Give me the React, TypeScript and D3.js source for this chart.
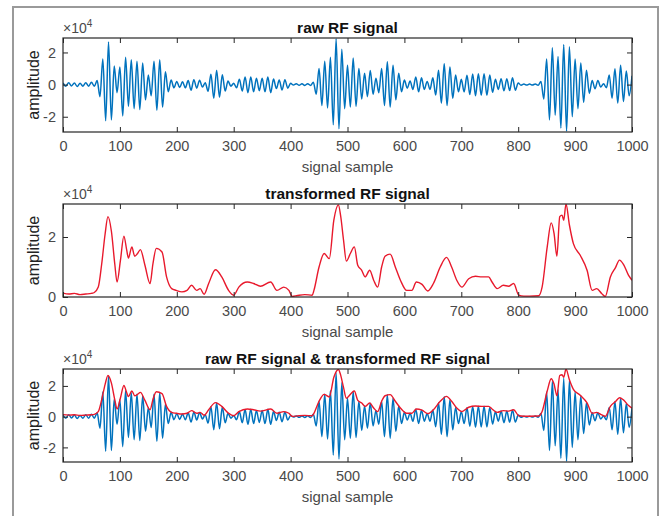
import { useRef, useEffect } from 'react';
import * as d3 from 'd3';

// all amplitudes in units of 10^4

// raw RF signal: peaks and troughs, one every 5 samples (0, 5, ... 1000)
const RAW_STEP = 5;
const RAW_EXTREMA = [
  0.1, -0.1, 0.12, -0.08, 0.1, -0.12, 0.08, -0.1, 0.12, -0.1,
  0.15, -0.1, 0.25, -0.75, 1.6, -2.25, 2.65, -2.2, 1.15, -0.5,
  1.1, -1.95, 1.7, -1.35, 1.55, -1.5, 1.45, -1.55, 1.35, -0.95,
  0.6, -0.7, 1.45, -1.6, 1.55, -1.4, 0.8, -0.45, 0.28, -0.2,
  0.2, -0.18, 0.17, -0.2, 0.25, -0.35, 0.3, -0.22, 0.27, -0.15,
  0.12, -0.42, 0.65, -0.85, 0.9, -0.78, 0.62, -0.4, 0.22, -0.1,
  0.08, -0.2, 0.33, -0.4, 0.47, -0.5, 0.48, -0.45, 0.4, -0.38,
  0.4, -0.45, 0.48, -0.5, 0.35, -0.25, 0.28, -0.33, 0.3, -0.22,
  0.08, -0.03, 0.05, -0.04, 0.05, -0.05, 0.06, -0.05, 0.15, -0.6,
  1.0, -1.3, 1.45, -1.45, 1.7, -2.5, 2.85, -2.75, 2.2, -1.5,
  1.2, -1.4, 1.65, -1.35, 1.0, -0.9, 0.7, -0.75, 0.88, -0.6,
  0.4, -0.5, 1.0, -1.3, 1.42, -1.4, 1.2, -0.95, 0.7, -0.45,
  0.28, -0.22, 0.22, -0.3, 0.48, -0.45, 0.42, -0.3, 0.2, -0.3,
  0.43, -0.65, 0.9, -1.15, 1.3, -1.3, 1.1, -0.85, 0.6, -0.45,
  0.33, -0.45, 0.58, -0.62, 0.66, -0.69, 0.68, -0.67, 0.67, -0.67,
  0.6, -0.48, 0.33, -0.3, 0.36, -0.39, 0.37, -0.37, 0.43, -0.35,
  0.1, -0.04, 0.03, -0.03, 0.03, -0.03, 0.04, -0.04, 0.2, -0.9,
  1.6, -2.2, 2.3, -1.9, 1.75, -2.7, 2.5, -2.9, 2.35, -2.0,
  1.6, -1.5, 1.35, -1.1, 0.9, -0.55, 0.25, -0.26, 0.25, -0.15,
  0.05, -0.2, 0.6, -0.85, 0.98, -1.15, 1.2, -1.05, 0.85, -0.7,
  0.55,
];

// transformed (envelope) signal
const ENV_SAMPLES = [
  0, 10, 20, 30, 40, 50, 55, 62, 68, 74, 79, 85, 91, 95, 101, 107, 112, 115, 121, 126,
  131, 136, 144, 153, 158, 164, 174, 182, 191, 199, 209, 218, 226, 235, 241, 248, 256, 268, 279, 291,
  300, 309, 324, 335, 347, 365, 376, 388, 397, 403, 412, 425, 438, 441, 450, 459, 468, 476, 484, 488,
  493, 498, 505, 512, 518, 525, 531, 539, 546, 553, 560, 566, 575, 584, 593, 604, 613, 621, 631, 641,
  651, 663, 674, 683, 692, 701, 713, 725, 736, 748, 754, 763, 774, 783, 792, 801, 810, 820, 836, 842,
  851, 858, 863, 868, 873, 877, 880, 884, 890, 897, 909, 921, 930, 938, 947, 953, 962, 971, 978, 985,
  994, 1000,
];
const ENV_VALUES = [
  0.13, 0.1, 0.12, 0.08, 0.1, 0.12, 0.15, 0.33, 1.1, 2.1, 2.68, 2.2, 1.1, 0.5, 1.23, 2.03, 1.56, 1.3, 1.67, 1.36,
  1.45, 1.58, 1.06, 0.45, 1.1, 1.62, 1.5, 0.67, 0.28, 0.22, 0.17, 0.22, 0.39, 0.22, 0.28, 0.09, 0.45, 0.91, 0.67, 0.22,
  0.06, 0.33, 0.5, 0.45, 0.36, 0.5, 0.22, 0.33, 0.22, 0.02, 0.05, 0.08, 0.06, 0.22, 1.0, 1.45, 1.28, 2.56, 3.07, 2.7,
  1.9, 1.2, 1.45, 1.67, 1.06, 0.89, 0.67, 0.89, 0.56, 0.33, 1.0, 1.36, 1.43, 1.0, 0.56, 0.22, 0.22, 0.5, 0.42, 0.2,
  0.45, 1.0, 1.32, 1.0, 0.56, 0.33, 0.61, 0.69, 0.67, 0.67, 0.5, 0.28, 0.39, 0.36, 0.45, 0.06, 0.03, 0.03, 0.04, 0.33,
  1.67, 2.47, 2.12, 1.36, 2.68, 2.73, 2.56, 3.1, 2.4, 1.78, 1.39, 0.89, 0.22, 0.28, 0.11, 0.02, 0.67, 0.98, 1.23, 1.09,
  0.72, 0.56,
];

const X_TICKS = [0, 100, 200, 300, 400, 500, 600, 700, 800, 900, 1000];

const PANELS = [
  { title: 'raw RF signal', top: 38, height: 94, yDomain: [-2.95, 2.9], yTicks: [-2, 0, 2], raw: true, env: false },
  { title: 'transformed RF signal', top: 204, height: 93, yDomain: [0, 3.1], yTicks: [0, 2], raw: false, env: true },
  { title: 'raw RF signal & transformed RF signal', top: 369, height: 93, yDomain: [-2.95, 3.1], yTicks: [-2, 0, 2], raw: true, env: true },
];

const FONT = "'Liberation Sans', Arial, Helvetica, sans-serif";

export default function App() {
  const svgRef = useRef<SVGSVGElement>(null);

  useEffect(() => {
    if (!svgRef.current) return;
    const width = 662;
    const height = 516;
    const left = 63;
    const right = 632;

    const svg = d3.select(svgRef.current);
    svg.selectAll('*').remove();

    svg.append('rect').attr('width', width).attr('height', height).attr('fill', 'white');

    // figure frame
    svg.append('path')
      .attr('d', `M13,${height} V7 H658 V${height}`)
      .attr('fill', 'none')
      .attr('stroke', '#9a9a9a')
      .attr('stroke-width', 2);

    const rawPts: [number, number][] = RAW_EXTREMA.map((v, i) => [i * RAW_STEP, v]);
    const envPts: [number, number][] = ENV_SAMPLES.map((s, i) => [s, ENV_VALUES[i]]);

    const x = d3.scaleLinear().domain([0, 1000]).range([left, right]);

    PANELS.forEach((p, idx) => {
      const bottom = p.top + p.height;
      const y = d3.scaleLinear().domain(p.yDomain).range([bottom, p.top]);
      const g = svg.append('g');

      const clipId = `clip${idx}`;
      g.append('clipPath').attr('id', clipId)
        .append('rect')
        .attr('x', left).attr('y', p.top)
        .attr('width', right - left).attr('height', p.height);

      const line = d3.line<[number, number]>()
        .x(d => x(d[0]))
        .y(d => y(d[1]))
        .curve(d3.curveMonotoneX);

      if (p.raw) {
        g.append('path')
          .datum(rawPts)
          .attr('clip-path', `url(#${clipId})`)
          .attr('fill', 'none')
          .attr('stroke', '#0072BD')
          .attr('stroke-width', 1.5)
          .attr('d', line);
      }
      if (p.env) {
        g.append('path')
          .datum(envPts)
          .attr('clip-path', `url(#${clipId})`)
          .attr('fill', 'none')
          .attr('stroke', '#e8192c')
          .attr('stroke-width', 1.4)
          .attr('d', line);
      }

      const styleAxis = (a: d3.Selection<SVGGElement, unknown, null, undefined>) => {
        a.select('.domain').remove();
        a.selectAll('.tick line').attr('stroke', '#262626');
        a.selectAll('.tick text')
          .attr('fill', '#4a4a4a')
          .attr('font-size', '14.5px')
          .attr('font-family', FONT);
      };

      g.append('g')
        .attr('transform', `translate(0,${bottom})`)
        .call(d3.axisBottom(x).tickValues(X_TICKS).tickSize(-5).tickPadding(9).tickFormat(d => String(d)))
        .call(styleAxis);
      g.append('g')
        .attr('transform', `translate(0,${p.top})`)
        .call(d3.axisTop(x).tickValues(X_TICKS).tickSize(-5).tickFormat(() => ''))
        .call(styleAxis);
      g.append('g')
        .attr('transform', `translate(${left},0)`)
        .call(d3.axisLeft(y).tickValues(p.yTicks).tickSize(-5).tickPadding(7).tickFormat(d => String(d)))
        .call(styleAxis);
      g.append('g')
        .attr('transform', `translate(${right},0)`)
        .call(d3.axisRight(y).tickValues(p.yTicks).tickSize(-5).tickFormat(() => ''))
        .call(styleAxis);

      // axes box
      g.append('rect')
        .attr('x', left).attr('y', p.top)
        .attr('width', right - left).attr('height', p.height)
        .attr('fill', 'none')
        .attr('stroke', '#262626')
        .attr('stroke-width', 1.2);

      // title
      g.append('text')
        .attr('x', (left + right) / 2)
        .attr('y', p.top - 5)
        .attr('text-anchor', 'middle')
        .attr('font-family', FONT)
        .attr('font-weight', 'bold')
        .attr('font-size', '15.5px')
        .attr('fill', '#111')
        .text(p.title);

      // exponent
      const ex = g.append('text')
        .attr('x', left)
        .attr('y', p.top - 5)
        .attr('font-family', FONT)
        .attr('font-size', '14px')
        .attr('fill', '#4a4a4a');
      ex.append('tspan').text('×10');
      ex.append('tspan').attr('font-size', '10px').attr('dy', -6).text('4');

      // x label
      g.append('text')
        .attr('x', (left + right) / 2)
        .attr('y', bottom + 40)
        .attr('text-anchor', 'middle')
        .attr('font-family', FONT)
        .attr('font-size', '15px')
        .attr('fill', '#4a4a4a')
        .text('signal sample');

      // y label
      g.append('text')
        .attr('transform', `translate(33,${p.top + p.height / 2}) rotate(-90)`)
        .attr('text-anchor', 'middle')
        .attr('dominant-baseline', 'central')
        .attr('font-family', FONT)
        .attr('font-size', '16px')
        .attr('fill', '#222')
        .text('amplitude');
    });
  }, []);

  return (
    <svg
      ref={svgRef}
      width={662}
      height={516}
      style={{ position: 'absolute', left: 0, top: 0, display: 'block' }}
    />
  );
}
